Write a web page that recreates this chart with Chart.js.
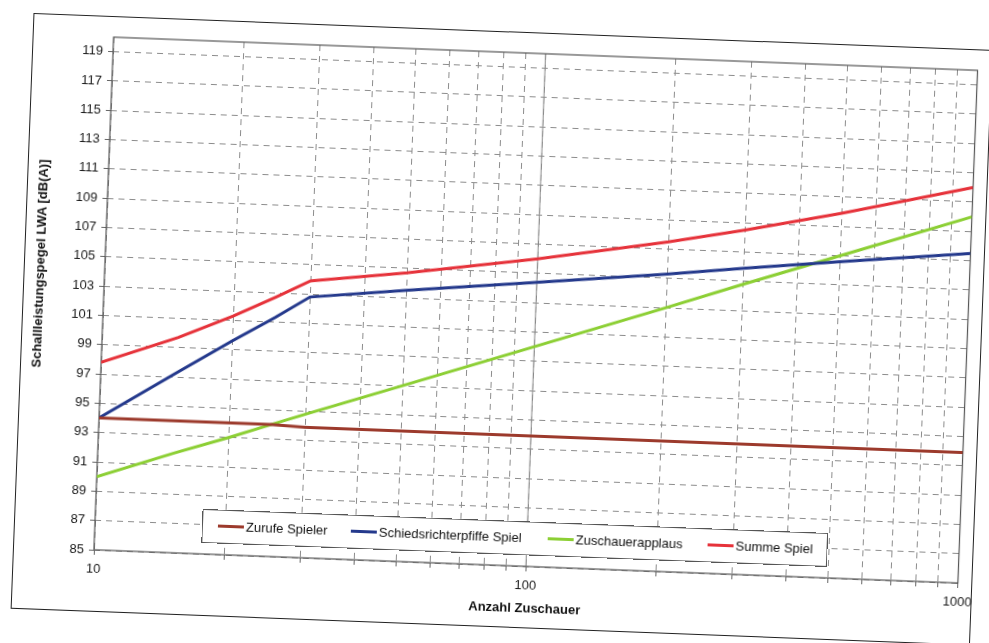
<!DOCTYPE html>
<html lang="de">
<head>
  <meta charset="UTF-8">
  <style>
    html, body {
      margin: 0;
      padding: 0;
      background: #fff;
      overflow: hidden;
    }
    body {
      font-family: Arial, "Liberation Sans", sans-serif;
    }
    /* the scan is tilted a bit, so the whole sheet is turned */
    .page {
      position: relative;
      width: 989px;
      height: 643px;
      transform: rotate(2.2deg);
      transform-origin: 50% 50%;
    }
    .frame {
      position: absolute;
      left: 22px;
      top: 31px;
      width: 960px;
      height: 596px;
      border: 1.5px solid #222;
      box-sizing: border-box;
    }
    canvas {
      position: absolute;
      left: 0;
      top: 0;
    }
    .ytitle {
      position: absolute;
      left: 38px;
      top: 281px;
      transform: translate(-50%, -50%) rotate(-90deg);
      font-weight: bold;
      font-size: 13px;
      color: #111;
      white-space: nowrap;
    }
    .legend {
      position: absolute;
      left: 210px;
      top: 520px;
      width: 626px;
      height: 34px;
      box-sizing: border-box;
      border: 1px solid #555;
      background: #fff;
      font-size: 13px;
      color: #111;
    }
    .legend .item {
      position: absolute;
      top: 8px;
      display: flex;
      align-items: center;
      white-space: nowrap;
    }
    .legend .swatch {
      width: 26px;
      height: 3px;
      margin-right: 2px;
    }
  </style>
</head>
<body>
  <div class="page">
    <div class="frame"></div>
    <canvas id="chart" width="989" height="643"></canvas>
    <div class="ytitle">Schallleistungspegel LWA [dB(A)]</div>
    <div class="legend" id="legend"></div>
  </div>

  <script src="https://cdn.jsdelivr.net/npm/chart.js"></script>
  <script>
    // Anzahl Zuschauer (x, log scale)
    const zuschauer = [10, 15, 20, 25, 30, 50, 100, 200, 300, 500, 1000];

    // LWA in dB(A)
    const zurufeSpieler = [94.0, 94.0, 94.0, 94.0, 93.9, 93.9, 93.9, 93.9, 93.9, 93.9, 93.9];
    const schiedsrichterpfiffe = [94.0, 97.3, 99.6, 101.3, 102.8, 103.5, 104.4, 105.3, 105.9, 106.6, 107.5];
    const zuschauerapplaus = [90.0, 91.8, 93.0, 94.0, 94.8, 97.0, 100.0, 103.0, 104.8, 107.0, 110.0];
    const summeSpiel = [97.8, 99.7, 101.3, 102.7, 103.9, 104.7, 106.0, 107.5, 108.5, 109.9, 112.0];

    const seriesNames = ['Zurufe Spieler', 'Schiedsrichterpfiffe Spiel', 'Zuschauerapplaus', 'Summe Spiel'];
    const seriesColors = ['#9c3a2c', '#24398c', '#8ccf34', '#e6323a'];

    // tick values
    const yTicks = [85, 87, 89, 91, 93, 95, 97, 99, 101, 103, 105, 107, 109, 111, 113, 115, 117, 119];
    const xTicks = [10, 20, 30, 40, 50, 60, 70, 80, 90, 100, 200, 300, 400, 500, 600, 700, 800, 900, 1000];
    const xLabels = [10, 100, 1000];

    const allSeries = [zurufeSpieler, schiedsrichterpfiffe, zuschauerapplaus, summeSpiel];

    const datasets = allSeries.map((vals, i) => ({
      label: seriesNames[i],
      data: vals.map((v, j) => ({ x: zuschauer[j], y: v })),
      borderColor: seriesColors[i],
      backgroundColor: seriesColors[i],
      borderWidth: 3,
      pointRadius: 0,
      tension: 0,
      fill: false
    }));

    // plot border + solid line at 100
    const plotFrame = {
      id: 'plotFrame',
      beforeDatasetsDraw(chart) {
        const ctx = chart.ctx;
        const a = chart.chartArea;
        const x100 = chart.scales.x.getPixelForValue(100);
        ctx.save();
        ctx.setLineDash([]);
        ctx.strokeStyle = '#8a8a8a';
        ctx.lineWidth = 1;
        ctx.beginPath();
        ctx.moveTo(x100, a.top);
        ctx.lineTo(x100, a.bottom);
        ctx.stroke();
        ctx.strokeStyle = '#555';
        ctx.lineWidth = 1.2;
        ctx.strokeRect(a.left, a.top, a.right - a.left, a.bottom - a.top);
        ctx.restore();
      }
    };

    const ctx = document.getElementById('chart').getContext('2d');
    new Chart(ctx, {
      type: 'line',
      data: { datasets: datasets },
      plugins: [plotFrame],
      options: {
        responsive: false,
        animation: false,
        layout: {
          padding: { left: 0, top: 52, right: 21, bottom: 20 }
        },
        plugins: {
          legend: { display: false },
          tooltip: { enabled: false }
        },
        scales: {
          x: {
            type: 'logarithmic',
            min: 10,
            max: 1000,
            afterBuildTicks: s => { s.ticks = xTicks.map(v => ({ value: v })); },
            afterFit: s => { s.height = 58; },
            grid: {
              color: '#8c8c8c',
              lineWidth: 1,
              tickLength: 5,
              tickColor: '#666',
              tickBorderDash: []
            },
            border: { display: false, dash: [6, 5] },
            ticks: {
              autoSkip: false,
              maxRotation: 0,
              padding: 7,
              color: '#1a1a1a',
              font: { family: 'Arial', size: 13 },
              callback: v => xLabels.includes(v) ? String(v) : ''
            },
            title: {
              display: true,
              text: 'Anzahl Zuschauer',
              color: '#111',
              font: { family: 'Arial', size: 13, weight: 'bold' },
              padding: { top: 4, bottom: 8 }
            }
          },
          y: {
            min: 85,
            max: 120,
            afterBuildTicks: s => { s.ticks = yTicks.map(v => ({ value: v })); },
            afterFit: s => { s.width = 103; },
            grid: {
              color: '#8c8c8c',
              lineWidth: 1,
              tickLength: 5,
              tickColor: '#666',
              tickBorderDash: []
            },
            border: { display: false, dash: [6, 5] },
            ticks: {
              padding: 5,
              color: '#1a1a1a',
              font: { family: 'Arial', size: 13 },
              callback: v => String(v)
            }
          }
        }
      }
    });

    // legend inside the plot, built from the same series
    const swatchLeft = [15, 148, 345, 505];
    const legend = document.getElementById('legend');
    seriesNames.forEach((name, i) => {
      const item = document.createElement('div');
      item.className = 'item';
      item.style.left = swatchLeft[i] + 'px';
      const sw = document.createElement('span');
      sw.className = 'swatch';
      sw.style.background = seriesColors[i];
      const txt = document.createElement('span');
      txt.textContent = name;
      item.appendChild(sw);
      item.appendChild(txt);
      legend.appendChild(item);
    });
  </script>
</body>
</html>
